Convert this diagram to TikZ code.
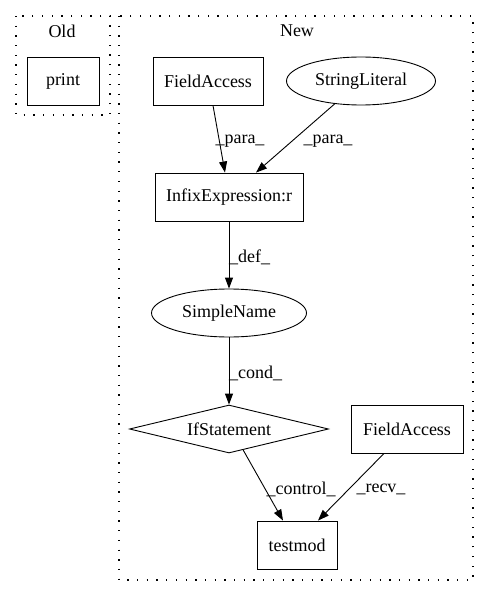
\documentclass[tikz,border=0pt]{standalone}
\usepackage{fontspec}
\setmainfont{Liberation Serif}
\usetikzlibrary{shapes.geometric, arrows.meta, positioning}

\begin{document}
\begin{tikzpicture}[x=1pt, y=-1pt,
  font=\fontsize{18}{20}\selectfont,
  box/.style={draw, rectangle, minimum height=48pt, inner sep=0pt, line width=0.9pt},
  oval/.style={draw, ellipse, minimum height=48pt, inner sep=0pt, line width=0.9pt},
  cluster/.style={draw, line width=1.3pt, dash pattern=on 1.3pt off 8.4pt},
  edge/.style={-{Triangle[length=11pt,width=8pt]}, line width=0.9pt},
  lbl/.style={inner sep=0pt}]
\useasboundingbox (0,0) rectangle (489,596);

% two clusters
\draw[cluster] (16,16) rectangle (110,115);
\draw[cluster] (119,16) rectangle (473,580);
\node (oldtitle) at (62,31) {Old};
\node (newtitle) at (297,31) {New};

% Old side
\node[box, minimum width=72pt] (print) at (63,81) {print};

% New side
\node[box, minimum width=110pt] (field1) at (208,81) {FieldAccess};
\node[oval, minimum width=149pt] (strlit) at (361,81) {StringLiteral};
\node[box, minimum width=148pt] (infix) at (229,197) {InfixExpression:r};
\node[oval, minimum width=155pt] (simple) at (229,313) {SimpleName};
\node[draw, diamond, aspect=4.1, minimum width=199pt, minimum height=48pt, inner sep=0pt, line width=0.9pt] (ifstmt) at (229,429) {IfStatement};
\node[box, minimum width=112pt] (field2) at (407,429) {FieldAccess};
\node[box, minimum width=80pt] (testmod) at (297,545) {testmod};

% edges
\draw[edge] ([xshift=5pt]field1.south) -- ([xshift=-4pt]infix.north);
\draw[edge] (strlit.221) -- ([xshift=27pt]infix.north);
\draw[edge] (infix.south) -- (simple.north);
\draw[edge] (simple.south) -- (ifstmt.north);
\draw[edge] (ifstmt.-56) -- ([xshift=-14pt]testmod.north);
\draw[edge] ([xshift=-23pt]field2.south) -- ([xshift=21pt]testmod.north);

% edge labels
\node[lbl] (para1) at (240,141) {\_para\_};
\node[lbl] (para2) at (328,141) {\_para\_};
\node[lbl, anchor=west] (def) at (229,257) {\_def\_};
\node[lbl, anchor=west] (cond) at (229,373) {\_cond\_};
\node[lbl] (control) at (301,489) {\_control\_};
\node[lbl] (recv) at (381,489) {\_recv\_};

\end{tikzpicture}
\end{document}
